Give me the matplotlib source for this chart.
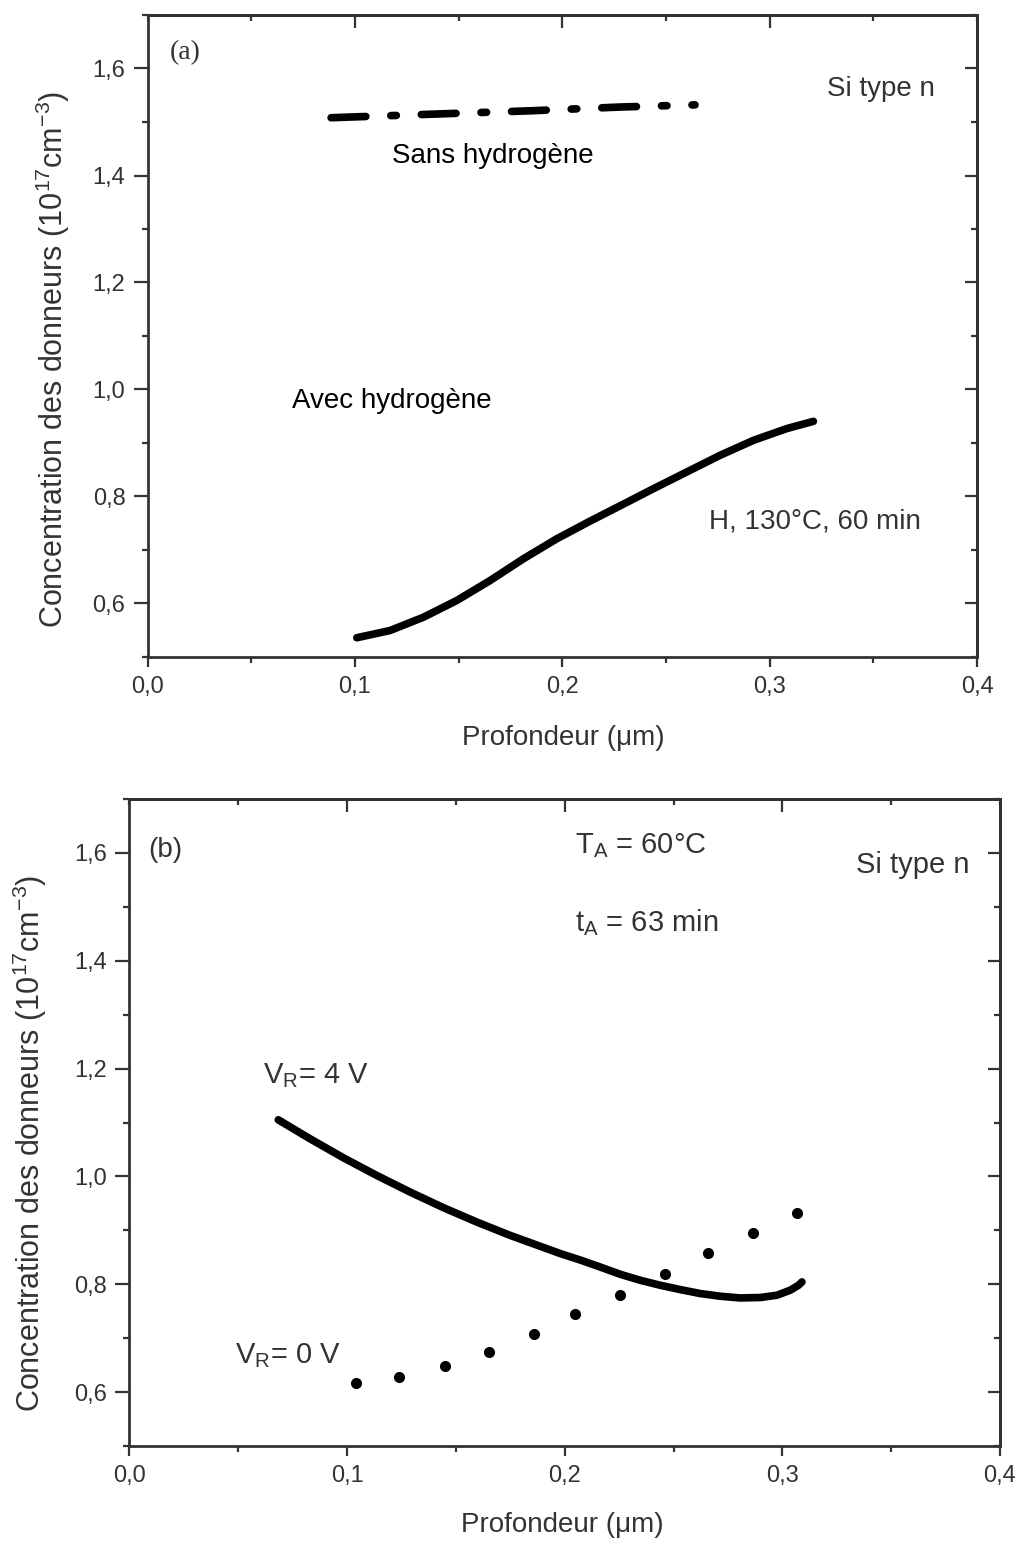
import matplotlib
matplotlib.use("Agg")
import matplotlib.pyplot as plt
from matplotlib.ticker import MultipleLocator, FuncFormatter

plt.rcParams['font.family'] = ['Liberation Sans', 'DejaVu Sans']
plt.rcParams['mathtext.fontset'] = 'custom'
plt.rcParams['mathtext.rm'] = 'Liberation Sans'
plt.rcParams['mathtext.default'] = 'regular'
plt.rcParams['lines.scale_dashes'] = False
plt.rcParams['path.simplify'] = False

# ---- panel (a) data ----
a_sans_x = [0.0885, 0.140, 0.185, 0.228, 0.264]
a_sans_y = [1.508, 1.515, 1.521, 1.528, 1.532]

a_avec_x = [0.1009, 0.1169, 0.1330, 0.1491, 0.1652, 0.1812, 0.1973, 0.2134,
            0.2311, 0.2439, 0.2601, 0.2761, 0.2922, 0.3083, 0.3211]
a_avec_y = [0.536, 0.5495, 0.5743, 0.6056, 0.6430, 0.6835, 0.7209, 0.7540,
            0.7890, 0.8145, 0.8460, 0.8770, 0.9050, 0.9270, 0.9405]

# ---- panel (b) data ----
b_v4_x = [0.0684, 0.0830, 0.0983, 0.1136, 0.1290, 0.1443, 0.1596, 0.1749,
          0.1979, 0.2071, 0.2163, 0.2255, 0.2347, 0.2439, 0.2530, 0.2622,
          0.2714, 0.2806, 0.2898, 0.2975, 0.3036, 0.3074, 0.3090]
b_v4_y = [1.105, 1.0698, 1.0346, 1.0019, 0.9709, 0.9420, 0.9154, 0.8907,
          0.8570, 0.8450, 0.8320, 0.8185, 0.8074, 0.7981, 0.7902, 0.7828,
          0.7778, 0.7746, 0.7754, 0.7796, 0.7889, 0.7981, 0.8043]

b_v0_x = [0.104, 0.124, 0.145, 0.165, 0.186, 0.2047, 0.2255, 0.2462, 0.2660,
          0.2864, 0.3069]
b_v0_y = [0.617, 0.628, 0.648, 0.674, 0.707, 0.7444, 0.7796, 0.8198, 0.858,
          0.895, 0.932]

xlabel = 'Profondeur (\u03bcm)'
ylabel = 'Concentration des donneurs (10$^{17}$cm$^{-3}$)'
tick_col = '#333333'

fig = plt.figure(figsize=(10.16, 15.44), dpi=100)
W, H = 1016, 1544
ax1 = fig.add_axes([147.6 / W, 1 - 657 / H, (977 - 147.6) / W, (657 - 15) / H])
ax2 = fig.add_axes([129.4 / W, 1 - 1446 / H, (1000 - 129.4) / W, (1446 - 799) / H])

comma = FuncFormatter(lambda v, p: ('%.1f' % v).replace('.', ','))


def style(ax):
    ax.set_xlim(0, 0.4)
    ax.set_ylim(0.5, 1.7)
    ax.xaxis.set_major_locator(MultipleLocator(0.1))
    ax.xaxis.set_minor_locator(MultipleLocator(0.05))
    ax.yaxis.set_major_locator(MultipleLocator(0.2))
    ax.yaxis.set_minor_locator(MultipleLocator(0.1))
    ax.xaxis.set_major_formatter(comma)
    ax.yaxis.set_major_formatter(comma)
    ax.set_yticks([0.6, 0.8, 1.0, 1.2, 1.4, 1.6])
    for s in ax.spines.values():
        s.set_linewidth(2.0)
        s.set_color('#333333')
    ax.tick_params(axis='both', which='both', colors='#333333',
                   labelcolor=tick_col, labelsize=17, width=1.6)
    ax.tick_params(axis='x', which='major', direction='out', length=7, pad=7)
    ax.tick_params(axis='y', which='major', direction='out', length=10, pad=6)
    ax.tick_params(axis='both', which='minor', direction='out', length=4)
    ax.set_xlabel(xlabel, fontsize=20, color=tick_col)
    ax.set_ylabel(ylabel, fontsize=22, color=tick_col)
    # ticks on top / right pointing inward
    tx = ax.secondary_xaxis('top')
    tx.set_xticks([0.1, 0.2, 0.3])
    tx.xaxis.set_minor_locator(MultipleLocator(0.05))
    tx.tick_params(which='major', direction='in', length=9, width=1.6, labeltop=False, colors='#333333')
    tx.tick_params(which='minor', direction='in', length=4, width=1.6, colors='#333333')
    tx.spines['top'].set_linewidth(2.0)
    ry = ax.secondary_yaxis('right')
    ry.set_yticks([0.6, 0.8, 1.0, 1.2, 1.4, 1.6])
    ry.yaxis.set_minor_locator(MultipleLocator(0.1))
    ry.tick_params(which='major', direction='in', length=9, width=1.6, labelright=False, colors='#333333')
    ry.tick_params(which='minor', direction='in', length=4, width=1.6, colors='#333333')
    ry.spines['right'].set_linewidth(2.0)


style(ax1)
style(ax2)
ax1.yaxis.set_label_coords(-0.091, 0.464)
ax1.xaxis.set_label_coords(0.501, -0.106)
ax2.yaxis.set_label_coords(-0.092, 0.467)
ax2.xaxis.set_label_coords(0.497, -0.102)

# ===== panel (a) =====
# dash-dot: one full period offset so the pattern starts with a dash
ax1.plot(a_sans_x, a_sans_y, color='black', lw=5.5,
         linestyle=(65, (25, 18, 4, 18)),
         dash_capstyle='round', dash_joinstyle='round')
ax1.plot(a_avec_x, a_avec_y, color='black', lw=5.5, solid_capstyle='round',
         solid_joinstyle='round')

ax1.text(0.018, 1.630, '(a)', family='Liberation Serif', fontsize=20,
         color=tick_col, ha='center', va='center')
ax1.text(0.3277, 1.5495, 'Si type n', fontsize=20, color=tick_col, va='baseline')
ax1.text(0.1177, 1.424, 'Sans hydrog\u00e8ne', fontsize=20, color='black', va='baseline')
ax1.text(0.0697, 0.9645, 'Avec hydrog\u00e8ne', fontsize=20, color='black', va='baseline')
ax1.text(0.2706, 0.740, 'H, 130\u00b0C, 60 min', fontsize=20, color=tick_col, va='baseline')

# ===== panel (b) =====
ax2.plot(b_v4_x, b_v4_y, color='black', lw=5.5, solid_capstyle='round',
         solid_joinstyle='round')
ax2.plot(b_v0_x, b_v0_y, 'o', color='black', ms=8, mew=0)

ax2.text(0.0164, 1.6056, '(b)', fontsize=20, color=tick_col, ha='center', va='center')
ax2.text(0.2048, 1.600, 'T$_A$ = 60\u00b0C', fontsize=21, color=tick_col, va='baseline')
ax2.text(0.334, 1.563, 'Si type n', fontsize=21, color=tick_col, va='baseline')
ax2.text(0.2048, 1.4556, 't$_A$ = 63 min', fontsize=21, color=tick_col, va='baseline')
ax2.text(0.0614, 1.172, 'V$_R$= 4 V', fontsize=21, color=tick_col, va='baseline')
ax2.text(0.0485, 0.6537, 'V$_R$= 0 V', fontsize=21, color=tick_col, va='baseline')

fig.savefig('out.png', dpi=100)
